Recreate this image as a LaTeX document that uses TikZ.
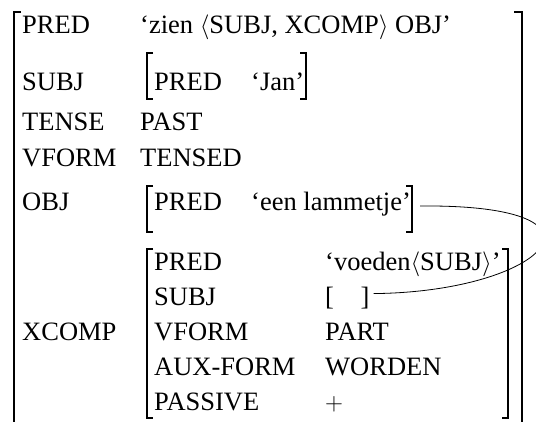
\documentclass[tikz,border=0pt]{standalone}
\usepackage{fontspec}
\setmainfont{Liberation Serif}
\begin{document}
\begin{tikzpicture}[x=1pt,y=-1pt,
  lbl/.style={anchor=base west, inner sep=0pt, font=\fontsize{26.5}{30}\selectfont},
  brk/.style={line width=1.1pt},
  link/.style={line width=0.8pt}]
\useasboundingbox (0,0) rectangle (536,421);
\clip (0,0) rectangle (536,421);
% outer matrix
\node[lbl] (pred)   at (22,33)  {PRED};
\node[lbl] (predv)  at (140,33) {‘zien $\langle$SUBJ, XCOMP$\rangle$ OBJ’};
\node[lbl] (subj)   at (22,90)  {SUBJ};
\node[lbl] (subjp)  at (154,90) {PRED};
\node[lbl] (subjv)  at (251,90) {‘Jan’};
\node[lbl] (tense)  at (22,130) {TENSE};
\node[lbl] (tensev) at (140,130){PAST};
\node[lbl] (vform)  at (22,166) {VFORM};
\node[lbl] (vformv) at (140,166){TENSED};
\node[lbl] (obj)    at (22,210) {OBJ};
\node[lbl] (objp)   at (154,210){PRED};
\node[lbl] (objv)   at (251,210){‘een lammetje’};
\node[lbl] (xcomp)  at (22,340) {XCOMP};
% xcomp matrix
\node[lbl] (xpred)  at (154,270){PRED};
\node[lbl] (xpredv) at (325,270){‘voeden$\langle$SUBJ$\rangle$’};
\node[lbl] (xsubj)  at (154,305){SUBJ};
\node[lbl] (esubj)  at (325,305){[\hspace{1em}]};
\node[lbl] (xvf)    at (154,340){VFORM};
\node[lbl] (xvfv)   at (325,340){PART};
\node[lbl] (xaux)   at (154,375){AUX-FORM};
\node[lbl] (xauxv)  at (325,375){WORDEN};
\node[lbl] (xpas)   at (154,410){PASSIVE};
\node[lbl] (xpasv)  at (325,410){$+$};
% brackets
\draw[brk] (21,12) -- (14,12) -- (14,430);
\draw[brk] (514,12) -- (522,12) -- (522,430);
\draw[brk] (153,53) -- (147,53) -- (147,99) -- (153,99);
\draw[brk] (300,53) -- (306,53) -- (306,99) -- (300,99);
\draw[brk] (153,186) -- (147,186) -- (147,232) -- (153,232);
\draw[brk] (406,186) -- (412,186) -- (412,232) -- (406,232);
\draw[brk] (153,249) -- (147,249) -- (147,418) -- (153,418);
\draw[brk] (502,249) -- (508,249) -- (508,418) -- (502,418);
% structure-sharing link
\coordinate (objend) at (420,206);
\draw[link] (objend) .. controls (630,204) and (545,292) .. ([xshift=4pt,yshift=4pt]esubj.east);
\end{tikzpicture}
\end{document}
